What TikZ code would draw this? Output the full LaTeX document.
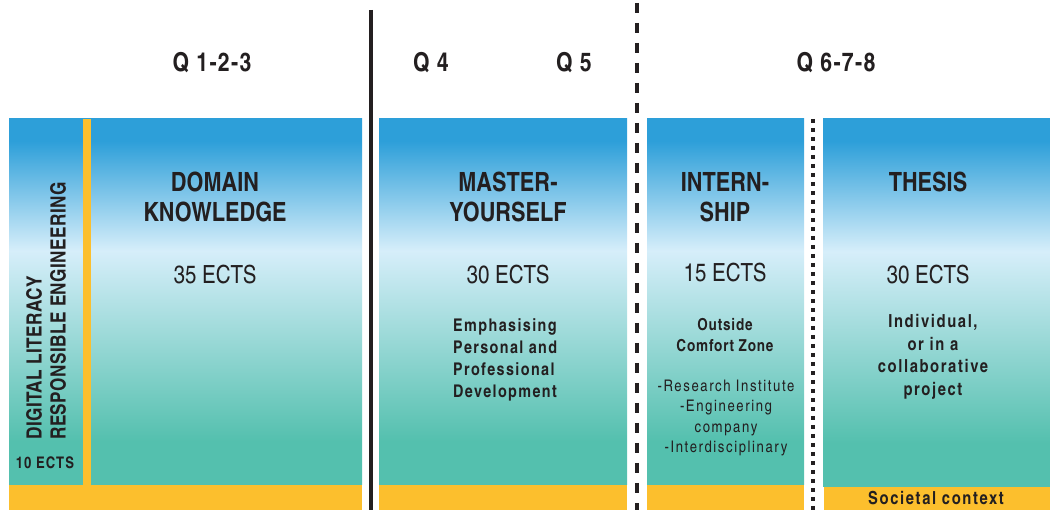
\documentclass[tikz,border=0pt]{standalone}
\usepackage{fontspec}
\setmainfont{texgyreheroscn}[Extension=.otf, UprightFont=*-regular, BoldFont=*-bold]

\definecolor{skyb}{RGB}{45, 159, 217}
\definecolor{paleb}{RGB}{214, 238, 250}
\definecolor{tealg}{RGB}{84, 192, 174}
\definecolor{ochre}{RGB}{252, 191, 45}
\definecolor{ink}{RGB}{35, 31, 32}

\pgfdeclareverticalshading{panelfade}{100bp}{color(0bp)=(tealg); color(31bp)=(tealg); color(57bp)=(paleb); color(72bp)=(skyb); color(100bp)=(skyb)}

\newcommand{\spaced}[1]{\addfontfeature{LetterSpace=#1}}

\tikzset{
  panel/.style={shading=panelfade},
  band/.style={fill=ochre},
  qlabel/.style={font=\bfseries\fontsize{26}{28}\selectfont\spaced{5}, text=ink, inner sep=0},
  head/.style={font=\bfseries\fontsize{26.5}{30}\selectfont, align=center, text=ink, inner sep=0},
  ects/.style={font=\fontsize{25}{28}\selectfont, text=ink, inner sep=0},
  blurb/.style={font=\bfseries\fontsize{17.5}{22}\selectfont\spaced{8}, text=ink, inner sep=0},
  list/.style={font=\fontsize{16}{20.5}\selectfont\spaced{10}, align=center, text=ink, inner sep=0},
  sep/.style={ink, line width=4pt}
}

\begin{document}
\begin{tikzpicture}[x=1pt, y=-1pt]
  \useasboundingbox (0, 0) rectangle (1050, 510);

  \coordinate (P1) at (9, 119);
  \coordinate (P2) at (379, 119);
  \coordinate (P3) at (647, 119);
  \coordinate (P4) at (823, 119);

  \shade[panel] (P1) rectangle (362, 485);
  \shade[panel] (P2) rectangle (627, 485);
  \shade[panel] (P3) rectangle (804, 485);
  \shade[panel] (P4) rectangle (1050, 487);

  \fill[band] (9, 485) rectangle (362, 510);
  \fill[band] (83, 119) rectangle (91, 485);
  \fill[band] (379, 485) rectangle (627, 510);
  \fill[band] (647, 485) rectangle (804, 510);
  \fill[band] (824, 487) rectangle (1050, 510);

  \draw[sep] (371, 10) -- (371, 510);
  \draw[sep, dash pattern=on 10pt off 10pt] (637, 3) -- (637, 510);
  \draw[sep, dash pattern=on 4pt off 5pt] (813, 119) -- (813, 510);

  \node[qlabel] (q123) at (212, 63) {Q 1-2-3};
  \node[qlabel] (q4) at (431, 63) {Q 4};
  \node[qlabel] (q5) at (574, 63) {Q 5};
  \node[qlabel] (q678) at (836, 63) {Q 6-7-8};

  \node[rotate=90, anchor=west, align=left, text=ink, inner sep=0,
        font=\bfseries\fontsize{21}{24}\selectfont\spaced{2}] (dl) at (46, 440)
        {DIGITAL LITERACY\\RESPONSIBLE ENGINEERING};
  \node[font=\bfseries\fontsize{16}{18}\selectfont\spaced{6}, text=ink, inner sep=0] (dlects) at (45, 463) {10 ECTS};

  \node[head] (domain) at (215, 197) {DOMAIN\\KNOWLEDGE};
  \node[ects] (domects) at (215, 275) {35 ECTS};

  \node[head] (master) at (508, 197) {MASTER-\\YOURSELF};
  \node[ects] (masects) at (508, 275) {30 ECTS};
  \node[blurb, align=left, anchor=west] (mastxt) at (453, 360)
        {Emphasising\\Personal and\\Professional\\Development};

  \node[head] (intern) at (725, 197) {INTERN-\\SHIP};
  \node[ects] (intects) at (725, 273) {15 ECTS};
  \node[blurb, align=center, font=\bfseries\fontsize{16.5}{21}\selectfont\spaced{5}] (intxt) at (725, 335.5)
        {Outside\\Comfort Zone};
  \node[list] (intlist) at (726, 418)
        {-Research Institute\\-Engineering\\company\\-Interdisciplinary};

  \node[head] (thesis) at (928, 182) {THESIS};
  \node[ects] (thects) at (928, 275) {30 ECTS};
  \node[blurb, align=center, font=\bfseries\fontsize{18}{22.5}\selectfont\spaced{9}] (thtxt) at (933, 357)
        {Individual,\\or in a\\collaborative\\project};
  \node[blurb, font=\bfseries\fontsize{18}{19}\selectfont\spaced{9}] (society) at (936, 498) {Societal context};
\end{tikzpicture}
\end{document}
